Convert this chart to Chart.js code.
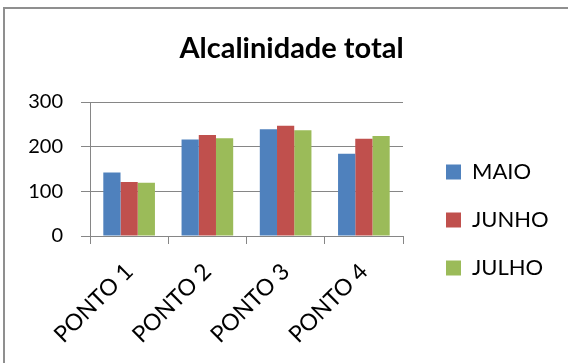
<!DOCTYPE html>
<html>
<head>
<meta charset="utf-8">
<script src="https://cdn.jsdelivr.net/npm/chart.js@4/dist/chart.umd.min.js"></script>
<style>
  html, body { margin: 0; padding: 0; background: #ffffff; }
  #wrap { position: relative; width: 568px; height: 363px; }
</style>
</head>
<body>
<div id="wrap"><canvas id="chart" width="568" height="363"></canvas></div>
<script>
// Total alkalinity per sampling point, by month
const categories = ['PONTO 1', 'PONTO 2', 'PONTO 3', 'PONTO 4'];
const maio  = [142, 216, 239, 184];
const junho = [121, 226, 247, 218];
const julho = [119, 219, 237, 224];
const yTicks = [0, 100, 200, 300];

const FONT = 'Lato, "Open Sans", sans-serif';
const GRID = '#868686';

// Thin frame along the top and left edges of the chart
const framePlugin = {
  id: 'frame',
  beforeDraw(chart) {
    const ctx = chart.ctx;
    ctx.save();
    ctx.strokeStyle = '#8f8f8f';
    ctx.lineWidth = 2;
    ctx.beginPath();
    ctx.moveTo(4, chart.height);
    ctx.lineTo(4, 8);
    ctx.lineTo(chart.width, 8);
    ctx.stroke();
    ctx.restore();
  }
};

new Chart(document.getElementById('chart'), {
  type: 'bar',
  data: {
    labels: categories,
    datasets: [
      { label: 'MAIO',  data: maio,  backgroundColor: '#4F81BD' },
      { label: 'JUNHO', data: junho, backgroundColor: '#C0504D' },
      { label: 'JULHO', data: julho, backgroundColor: '#9BBB59' }
    ]
  },
  options: {
    responsive: false,
    animation: false,
    layout: { padding: { left: 28, right: 13, top: 0, bottom: 0 } },
    datasets: { bar: { categoryPercentage: 0.66, barPercentage: 1.0 } },
    plugins: {
      title: {
        display: true,
        text: 'Alcalinidade total',
        color: '#000000',
        font: { family: FONT, size: 29, weight: 'bold' },
        padding: { top: 31.6, bottom: 35.6 }
      },
      legend: {
        position: 'right',
        align: 'start',
        maxWidth: 135,
        title: { display: true, text: '', font: { size: 10, lineHeight: 1 }, padding: { top: 125, bottom: 0 } },
        labels: {
          color: '#000000',
          boxWidth: 15,
          boxHeight: 15,
          padding: 26,
          font: { family: FONT, size: 22 }
        }
      },
      tooltip: { enabled: false }
    },
    scales: {
      x: {
        grid: { display: true, drawOnChartArea: false, drawTicks: true, tickLength: 8, color: GRID, offset: true },
        border: { display: true, color: GRID, width: 1 },
        ticks: {
          color: '#000000',
          font: { family: FONT, size: 23 },
          minRotation: 45,
          maxRotation: 45,
          padding: 14
        },
        afterFit(scale) { scale.height = 127; }
      },
      y: {
        min: 0,
        max: 300,
        afterBuildTicks(scale) { scale.ticks = yTicks.map(v => ({ value: v })); },
        grid: { color: GRID, tickLength: 9, drawTicks: true },
        border: { display: true, color: GRID, width: 1 },
        ticks: {
          color: '#000000',
          font: { family: FONT, size: 20 },
          padding: 18
        },
        afterFit(scale) { scale.width = 62; }
      },
      gap: {
        type: 'linear',
        position: 'right',
        display: true,
        grid: { display: false },
        border: { display: false },
        ticks: { display: false },
        afterFit(scale) { scale.width = 17; }
      }
    }
  },
  plugins: [framePlugin]
});
</script>
</body>
</html>
